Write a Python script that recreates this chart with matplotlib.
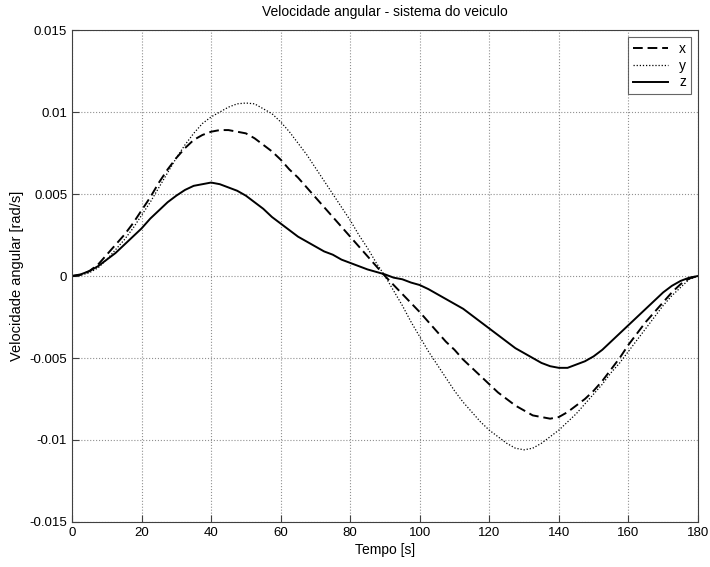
import matplotlib
matplotlib.use("Agg")
import matplotlib.pyplot as plt

plt.rcParams['font.family'] = ['Liberation Sans', 'DejaVu Sans']

# tempo [s], passo de 2.5 s
t = [i * 2.5 for i in range(73)]

wx = [0, 0.00007, 0.0003, 0.0007, 0.0013, 0.0019, 0.0025, 0.0032, 0.0040, 0.0048,
      0.0057, 0.0065, 0.0072, 0.0078, 0.0083, 0.0086, 0.0088, 0.0089, 0.0089, 0.0088,
      0.0087, 0.0084, 0.0080, 0.0076, 0.0071, 0.0065, 0.0060, 0.0054, 0.0048, 0.0042,
      0.0036, 0.0030, 0.0024, 0.0018, 0.0012, 0.0006, 0.0,
      -0.00055, -0.0011, -0.00165, -0.0022, -0.0028, -0.0034, -0.0040, -0.0045, -0.0051,
      -0.0056, -0.0061, -0.0066, -0.0071, -0.0075, -0.0079, -0.0082, -0.0085, -0.0086,
      -0.0087, -0.0086, -0.0083, -0.0079, -0.0075, -0.0070, -0.0064, -0.0057, -0.0050,
      -0.0042, -0.0035, -0.0028, -0.0022, -0.0016, -0.0010, -0.0005, -0.00015, 0.0]

wy = [0, 0.00005, 0.0002, 0.0005, 0.0010, 0.0016, 0.0022, 0.0029, 0.0037, 0.0045,
      0.0054, 0.0063, 0.0072, 0.0080, 0.0087, 0.0093, 0.0097, 0.0100, 0.0103, 0.0105,
      0.01055, 0.0105, 0.0102, 0.0099, 0.0094, 0.0088, 0.0081, 0.0074, 0.0066, 0.0058,
      0.0050, 0.0042, 0.0034, 0.0025, 0.0017, 0.0008, 0.0,
      -0.0009, -0.0018, -0.0028, -0.0037, -0.0046, -0.0054, -0.0062, -0.0070, -0.0077,
      -0.0083, -0.0089, -0.0094, -0.0098, -0.0102, -0.0105, -0.0106, -0.0105, -0.0102,
      -0.0098, -0.0094, -0.0089, -0.0084, -0.0078, -0.0072, -0.0066, -0.0059, -0.0053,
      -0.0046, -0.0039, -0.0032, -0.0025, -0.0018, -0.0012, -0.0007, -0.0002, 0.0]

wz = [0, 0.0001, 0.0003, 0.0006, 0.0010, 0.0014, 0.0019, 0.0024, 0.0029, 0.0035,
      0.0040, 0.0045, 0.0049, 0.00525, 0.0055, 0.0056, 0.0057, 0.0056, 0.0054, 0.0052,
      0.0049, 0.0045, 0.0041, 0.0036, 0.0032, 0.0028, 0.0024, 0.0021, 0.0018, 0.0015,
      0.0013, 0.0010, 0.0008, 0.0006, 0.0004, 0.00025, 0.0001,
      -0.0001, -0.0002, -0.0004, -0.00055, -0.0008, -0.0011, -0.0014, -0.0017, -0.0020,
      -0.0024, -0.0028, -0.0032, -0.0036, -0.0040, -0.0044, -0.0047, -0.0050, -0.0053,
      -0.0055, -0.0056, -0.0056, -0.0054, -0.0052, -0.0049, -0.0045, -0.0040, -0.0035,
      -0.0030, -0.0025, -0.0020, -0.0015, -0.0010, -0.0006, -0.0003, -0.0001, 0.0]

xticks = [0, 20, 40, 60, 80, 100, 120, 140, 160, 180]
yticks = [-0.015, -0.01, -0.005, 0, 0.005, 0.01, 0.015]
ylabels = ['-0.015', '-0.01', '-0.005', '0', '0.005', '0.01', '0.015']

fig = plt.figure(figsize=(7.1, 5.67), dpi=100)
ax = fig.add_axes([0.1014, 0.0794, 0.8816, 0.8676])

ax.plot(t, wx, color='black', linestyle=(0, (5, 2.5)), linewidth=1.4, label='x')
ax.plot(t, wy, color='black', linestyle=(0, (1, 1.5)), linewidth=0.9, label='y')
ax.plot(t, wz, color='black', linestyle='-', linewidth=1.4, label='z')

ax.set_xlim(0, 180)
ax.set_ylim(-0.015, 0.015)
ax.set_xticks(xticks)
ax.set_yticks(yticks)
ax.set_yticklabels(ylabels)
ax.tick_params(direction='in', length=5, labelsize=9.5, colors='#404040', labelcolor='black')
ax.grid(True, linestyle=':', color='#909090', linewidth=0.8)
for s in ax.spines.values():
    s.set_color('#404040')

ax.set_title('Velocidade angular - sistema do veiculo', fontsize=10, pad=10)
ax.set_xlabel('Tempo [s]', fontsize=10, labelpad=3)
ax.set_ylabel('Velocidade angular [rad/s]', fontsize=10.5, labelpad=4)

leg = ax.legend(loc='upper right', fontsize=10, fancybox=False, handlelength=2.5,
                borderpad=0.35, labelspacing=0.2, borderaxespad=0.5)
leg.get_frame().set_edgecolor('#404040')
leg.get_frame().set_linewidth(0.8)

fig.savefig('out.png', dpi=100)
